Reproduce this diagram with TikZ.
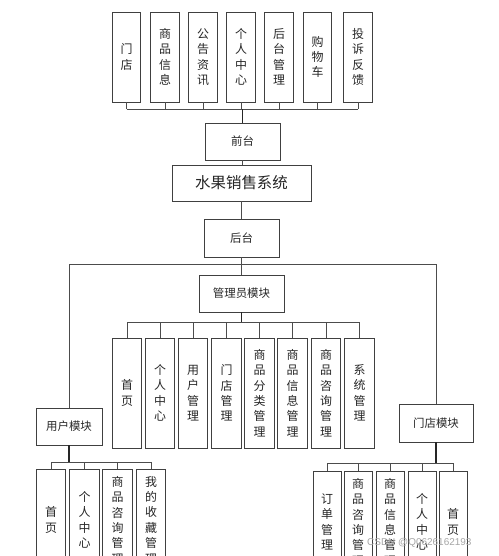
\documentclass[tikz,border=0pt]{standalone}
\usepackage{fontspec}
\newfontfamily\cjk{Noto Sans CJK SC}
\begin{document}
\begin{tikzpicture}[x=1bp,y=-1bp,
  box/.style={draw=black!75, line width=0.8bp, inner sep=0pt, text=black!85, fill=white},
  vbox/.style={box, align=center, font=\cjk\fontsize{12}{15.5}\selectfont},
  hbox/.style={box, font=\cjk\fontsize{11.5}{14}\selectfont},
  conn/.style={draw=black!70, line width=0.8bp},
  main/.style={draw=black!85, line width=1.1bp}]
\useasboundingbox (0,0) rectangle (499,556);
\clip (0,0) rectangle (499,556);
% top (front-end) children
\foreach \n/\x/\t in {t1/126.5/{门\\店}, t2/165/{商\\品\\信\\息}, t3/203/{公\\告\\资\\讯}, t4/241/{个\\人\\中\\心}, t5/279/{后\\台\\管\\理}, t6/317.5/{购\\物\\车}, t7/358/{投\\诉\\反\\馈}}
  \node[vbox, minimum width=28.5bp, minimum height=90bp] (\n) at (\x,57) {\t};
\node[hbox, minimum width=75bp, minimum height=37bp] (qt) at (242.5,141.5) {前台};
\node[box, font=\cjk\fontsize{15.5}{18}\selectfont, minimum width=139bp, minimum height=36bp] (sys) at (241.5,183) {水果销售系统};
\node[hbox, minimum width=75bp, minimum height=38bp] (ht) at (241.5,238) {后台};
\coordinate (fb) at (242.5,109);
\foreach \n in {t1,t2,t3,t4,t5,t6,t7} \draw[conn] (\n.south) -- (\n.south |- fb);
\draw[conn] (t1.south |- fb) -- (t7.south |- fb);
\draw[main] (qt.north) -- (qt.north |- fb);
\draw[conn] (qt.south) -- (sys.north -| qt.south);
\draw[conn] (sys.south) -- (ht.north);
% back-end modules
\node[hbox, minimum width=85bp, minimum height=37bp] (adm) at (241.5,293.5) {管理员模块};
\node[hbox, minimum width=66bp, minimum height=37bp] (usr) at (69,426.5) {用户模块};
\node[hbox, minimum width=74bp, minimum height=38bp] (sto) at (436,423) {门店模块};
\coordinate (bb) at (241.5,264);
\draw[conn] (ht.south) -- (bb);
\draw[conn] (usr.north) -- (usr.north |- bb) -- (sto.north |- bb) -- (sto.north);
\draw[conn] (bb) -- (adm.north);
% admin children
\foreach \n/\x/\t in {a1/127/{首\\页}, a2/160/{个\\人\\中\\心}, a3/193/{用\\户\\管\\理}, a4/226.5/{门\\店\\管\\理}, a5/259.5/{商\\品\\分\\类\\管\\理}, a6/292.5/{商\\品\\信\\息\\管\\理}, a7/326/{商\\品\\咨\\询\\管\\理}, a8/359.5/{系\\统\\管\\理}}
  \node[vbox, minimum width=29.5bp, minimum height=110bp] (\n) at (\x,393) {\t};
\coordinate (ab) at (241.5,322);
\foreach \n in {a1,a2,a3,a4,a5,a6,a7,a8} \draw[conn] (\n.north) -- (\n.north |- ab);
\draw[conn] (a1.north |- ab) -- (a8.north |- ab);
\draw[main] (adm.south) -- (ab);
% user children
\foreach \n/\x/\t in {u1/51/{首\\页}, u2/84.5/{个\\人\\中\\心}, u3/117.5/{商\\品\\咨\\询\\管\\理}, u4/151/{我\\的\\收\\藏\\管\\理}}
  \node[vbox, minimum width=29.5bp, minimum height=102bp] (\n) at (\x,520) {\t};
\coordinate (ub) at (69,462);
\foreach \n in {u1,u2,u3,u4} \draw[conn] (\n.north) -- (\n.north |- ub);
\draw[conn] (u1.north |- ub) -- (u4.north |- ub);
\draw[main] (usr.south) -- (ub);
% store children
\foreach \n/\x/\t in {s1/327/{订\\单\\管\\理}, s2/358/{商\\品\\咨\\询\\管\\理}, s3/390/{商\\品\\信\\息\\管\\理}, s4/422/{个\\人\\中\\心}, s5/453/{首\\页}}
  \node[vbox, minimum width=28bp, minimum height=102bp] (\n) at (\x,522) {\t};
\coordinate (sb) at (436,463);
\foreach \n in {s1,s2,s3,s4,s5} \draw[conn] (\n.north) -- (\n.north |- sb);
\draw[conn] (s1.north |- sb) -- (s5.north |- sb);
\draw[main] (sto.south) -- (sb);
% watermark
\node[text=black!35, font=\fontspec{Liberation Sans}\fontsize{10}{12}\selectfont, anchor=west, inner sep=0pt] (wm) at (367,543) {CSDN @Q0626162193};
\end{tikzpicture}
\end{document}
